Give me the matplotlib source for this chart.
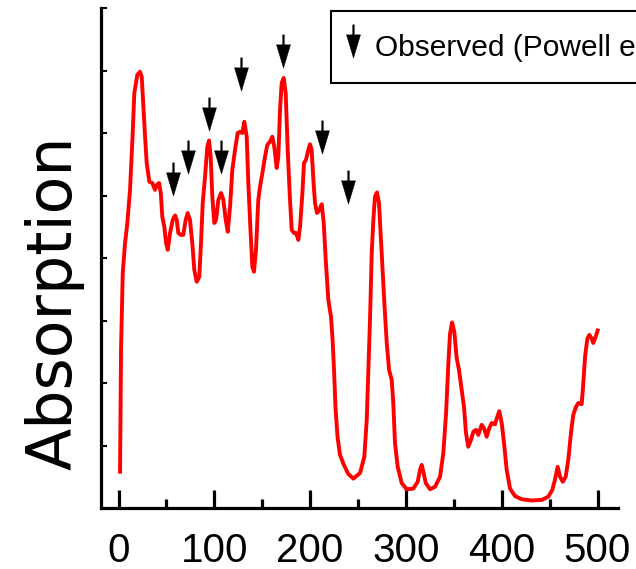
import matplotlib
matplotlib.use("Agg")
import matplotlib.pyplot as plt
from matplotlib.lines import Line2D
from matplotlib.path import Path

plt.rcParams["font.family"] = ["Liberation Sans", "DejaVu Sans"]

# spectrum
wavenumber = [
    1.6, 2.6, 4.4, 6.8, 9.2, 12.0, 14.8, 16.5, 19.6, 22.4, 24.2, 25.9, 27.7,
    29.4, 32.2, 35.3, 38.1, 39.9, 42.3, 44.1, 45.7, 47.8, 49.6, 51.4, 53.8,
    56.6, 59.0, 60.8, 62.4, 64.9, 67.6, 70.1, 72.2, 74.6, 77.0, 79.1, 81.6,
    84.3, 86.1, 87.9, 90.3, 92.7, 94.5, 96.2, 97.9, 100.0, 101.8, 104.2,
    107.0, 109.4, 111.9, 114.0, 116.4, 118.8, 121.6, 124.4, 126.8, 129.2,
    131.3, 133.8, 135.5, 137.6, 139.7, 141.4, 143.5, 145.9, 147.7, 150.1,
    152.9, 155.3, 158.1, 160.5, 162.6, 165.1, 166.8, 168.6, 170.3, 172.4,
    174.5, 176.6, 179.0, 180.8, 183.2, 185.3, 187.7, 189.5, 191.9, 193.6,
    195.7, 198.1, 199.9, 201.6, 203.4, 205.1, 207.2, 209.6, 212.1, 214.2,
    216.3, 219.0, 221.8, 223.4, 225.0, 226.5, 228.6, 231.2, 234.7, 239.6,
    245.1, 252.1, 256.6, 259.1, 260.8, 262.5, 264.3, 266.0, 267.7, 269.8,
    271.9, 274.7, 277.5, 280.0, 282.4, 285.2, 286.8, 288.6, 291.4, 295.6,
    300.8, 307.7, 312.3, 314.7, 316.5, 318.2, 320.7, 325.2, 330.4, 335.6,
    339.0, 341.9, 344.3, 346.0, 348.2, 350.5, 353.0, 355.4, 358.2, 360.6,
    362.7, 365.1, 367.9, 370.4, 373.2, 375.6, 379.1, 381.5, 384.3, 387.1,
    389.6, 393.0, 395.4, 397.5, 400.0, 402.4, 405.2, 408.7, 413.9, 420.9,
    431.3, 441.8, 448.6, 452.8, 455.6, 458.4, 460.9, 463.7, 466.8, 469.5,
    472.3, 474.7, 477.6, 480.0, 483.5, 485.2, 487.0, 489.4, 491.5, 494.0,
    495.6, 498.1, 500.2,
]
absorption = [
    0.58, 2.53, 3.76, 4.24, 4.56, 5.09, 6.00, 6.64, 6.93, 6.98, 6.90, 6.42,
    5.94, 5.52, 5.22, 5.20, 5.09, 5.17, 5.20, 5.04, 4.66, 4.50, 4.24, 4.13,
    4.40, 4.61, 4.68, 4.61, 4.40, 4.37, 4.37, 4.61, 4.72, 4.61, 4.24, 3.81,
    3.62, 3.70, 4.24, 4.88, 5.30, 5.78, 5.88, 5.62, 4.98, 4.56, 4.61, 4.93,
    5.04, 4.93, 4.61, 4.42, 4.82, 5.41, 5.73, 6.00, 6.02, 6.00, 6.18, 5.94,
    5.20, 4.50, 3.86, 3.78, 4.13, 4.93, 5.14, 5.35, 5.62, 5.81, 5.86, 5.94,
    5.78, 5.44, 5.62, 6.37, 6.80, 6.88, 6.64, 5.73, 4.93, 4.45, 4.40, 4.40,
    4.29, 4.50, 5.03, 5.52, 5.57, 5.73, 5.82, 5.73, 5.25, 4.88, 4.72, 4.77,
    4.86, 4.56, 3.97, 3.33, 3.06, 2.70, 2.20, 1.60, 1.14, 0.85, 0.71, 0.55,
    0.47, 0.56, 0.82, 1.41, 2.20, 3.00, 4.07, 4.61, 4.98, 5.05, 4.88, 4.07,
    3.28, 2.64, 2.21, 2.05, 1.68, 1.04, 0.66, 0.40, 0.30, 0.31, 0.42, 0.61,
    0.69, 0.58, 0.40, 0.30, 0.34, 0.50, 0.87, 1.51, 2.31, 2.78, 2.97, 2.82,
    2.40, 2.21, 1.89, 1.62, 1.20, 0.98, 1.09, 1.22, 1.25, 1.17, 1.33, 1.28,
    1.14, 1.28, 1.36, 1.34, 1.46, 1.55, 1.36, 1.04, 0.61, 0.31, 0.19, 0.14,
    0.12, 0.13, 0.18, 0.29, 0.45, 0.66, 0.50, 0.42, 0.50, 0.77, 1.20, 1.49,
    1.62, 1.68, 1.66, 2.00, 2.42, 2.71, 2.77, 2.71, 2.64, 2.74, 2.84,
]

# observed bands (Powell et al.), arrow centres
obs_x = [56.9, 72.5, 94.5, 107.0, 127.9, 171.7, 212.4, 239.5]
obs_y = [5.27, 5.62, 6.31, 5.62, 6.94, 7.31, 5.93, 5.14]

xticks = [0, 100, 200, 300, 400, 500]
xminor = [50, 150, 250, 350, 450]

# down arrow marker: thin stem + triangular head
arrow = Path(
    [(-0.025, 0.5), (0.025, 0.5), (0.025, 0.2), (0.21, 0.2), (0.0, -0.5),
     (-0.21, 0.2), (-0.025, 0.2), (-0.025, 0.5)],
    [Path.MOVETO] + [Path.LINETO] * 6 + [Path.CLOSEPOLY],
)

fig = plt.figure(figsize=(6.36, 5.69), dpi=100)
ax = fig.add_axes([101 / 636, 61 / 569, 517 / 636, 500 / 569])

ax.plot(wavenumber, absorption, color="#ff0000", linewidth=2.8,
        solid_joinstyle="round")
ax.plot(obs_x, obs_y, ls="none", marker=arrow, markersize=24,
        color="black", markeredgewidth=0.3)

ax.set_xlim(-18.3, 521.4)
ax.set_ylim(0, 8)

for side in ["top", "right"]:
    ax.spines[side].set_visible(False)
for side in ["left", "bottom"]:
    ax.spines[side].set_linewidth(2.3)

ax.set_xticks(xticks)
ax.set_xticks(xminor, minor=True)
ax.set_yticks(range(0, 9))
ax.tick_params(axis="x", which="major", direction="in", length=13,
               width=2.3, labelsize=29, pad=17)
ax.tick_params(axis="x", which="minor", direction="in", length=6.5,
               width=2.3)
ax.tick_params(axis="y", which="major", direction="in", length=4.5,
               width=1.5, labelleft=False)

fig.text(55 / 636, 1 - 303 / 569, "Absorption", rotation=90,
         ha="center", va="center", fontsize=44.5, family="DejaVu Sans")

# legend box runs past the right edge, as in the original figure
handle = Line2D([], [], ls="none", marker=arrow, markersize=24,
                color="black", markeredgewidth=0.3)
leg = ax.legend([handle], ["Observed (Powell et al.)"], loc="upper left",
                bbox_to_anchor=(330.7 / 636, 1 - 10.7 / 569),
                bbox_transform=fig.transFigure, borderaxespad=0,
                fontsize=21.5, frameon=True, fancybox=False, framealpha=1,
                edgecolor="black", borderpad=0.5, handlelength=0.49,
                handleheight=1.8, handletextpad=0.51, numpoints=1)
leg.get_frame().set_linewidth(1.5)

fig.savefig("out.png", dpi=100)
